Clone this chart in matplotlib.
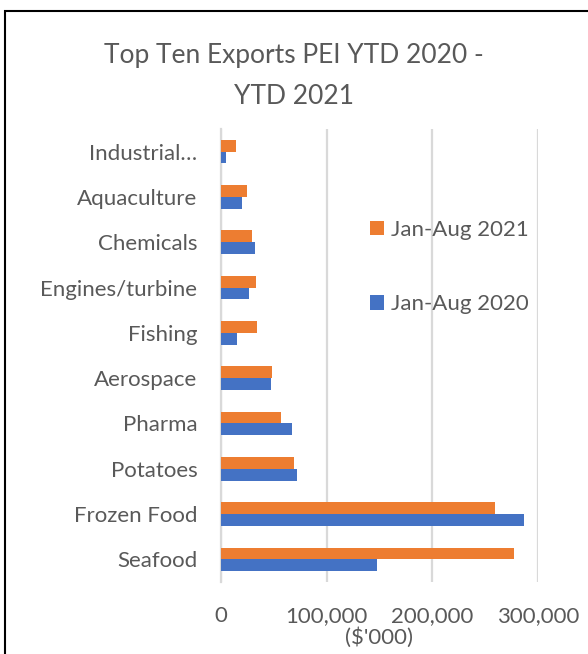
import matplotlib.pyplot as plt
import numpy as np
from matplotlib.patches import Rectangle

# categories listed bottom to top (as drawn by barh)
categories = ['Seafood', 'Frozen Food', 'Potatoes', 'Pharma', 'Aerospace',
              'Fishing', 'Engines/turbine', 'Chemicals', 'Aquaculture', 'Industrial…']
jan_aug_2020 = [147500, 286400, 71900, 67500, 47000, 15000, 26300, 32000, 19500, 4500]
jan_aug_2021 = [276900, 259500, 69400, 56800, 48300, 34000, 33000, 29000, 24600, 14000]
x_ticks = [0, 100000, 200000, 300000]

plt.rcParams['font.family'] = ['Lato', 'DejaVu Sans']
text_col = '#595959'
blue = '#4472c4'
orange = '#ed7d31'

fig = plt.figure(figsize=(5.88, 6.54), dpi=100)
ax = fig.add_axes([221 / 588, 1 - 582 / 654, (538 - 221) / 588, (582 - 129) / 654])

y = np.arange(len(categories))
h = 0.26
ax.barh(y - h / 2, jan_aug_2020, height=h, color=blue, label='Jan-Aug 2020', zorder=3)
ax.barh(y + h / 2, jan_aug_2021, height=h, color=orange, label='Jan-Aug 2021', zorder=3)

ax.set_xlim(0, 300000)
ax.set_ylim(-0.5, len(categories) - 0.5)
ax.set_yticks(y)
ax.set_yticklabels(categories, fontsize=16, color=text_col)
ax.set_xticks(x_ticks)
ax.set_xticklabels([f'{v:,}' for v in x_ticks], fontsize=16, color=text_col)
ax.tick_params(axis='y', length=0, pad=17)
ax.tick_params(axis='x', length=0, pad=17)
ax.grid(axis='x', color='#d9d9d9', linewidth=1.6, zorder=0)
for s in ['top', 'right', 'bottom']:
    ax.spines[s].set_visible(False)
ax.spines['left'].set_color('#d9d9d9')
ax.spines['left'].set_linewidth(1.6)
ax.set_xlabel("($'000)", fontsize=16, color=text_col, labelpad=1)

handles, labels = ax.get_legend_handles_labels()
leg = fig.legend(handles[::-1], labels[::-1], loc='center left',
                 bbox_to_anchor=(350 / 588, 1 - 267 / 654), frameon=False,
                 fontsize=16, labelcolor=text_col, handlelength=0.65, handleheight=0.65,
                 handletextpad=0.3, labelspacing=2.45)

fig.text(0.5, 1 - 55 / 654, 'Top Ten Exports PEI YTD 2020 -', ha='center', va='center',
         fontsize=19, color=text_col)
fig.text(0.5, 1 - 97 / 654, 'YTD 2021', ha='center', va='center',
         fontsize=19, color=text_col)

# chart border
fig.patches.append(Rectangle((5 / 588, -0.01), 0.999, 1 - 11 / 654 + 0.01,
                             transform=fig.transFigure, fill=False,
                             edgecolor='black', linewidth=1.5))

fig.savefig('out.png', dpi=100, facecolor='white')
